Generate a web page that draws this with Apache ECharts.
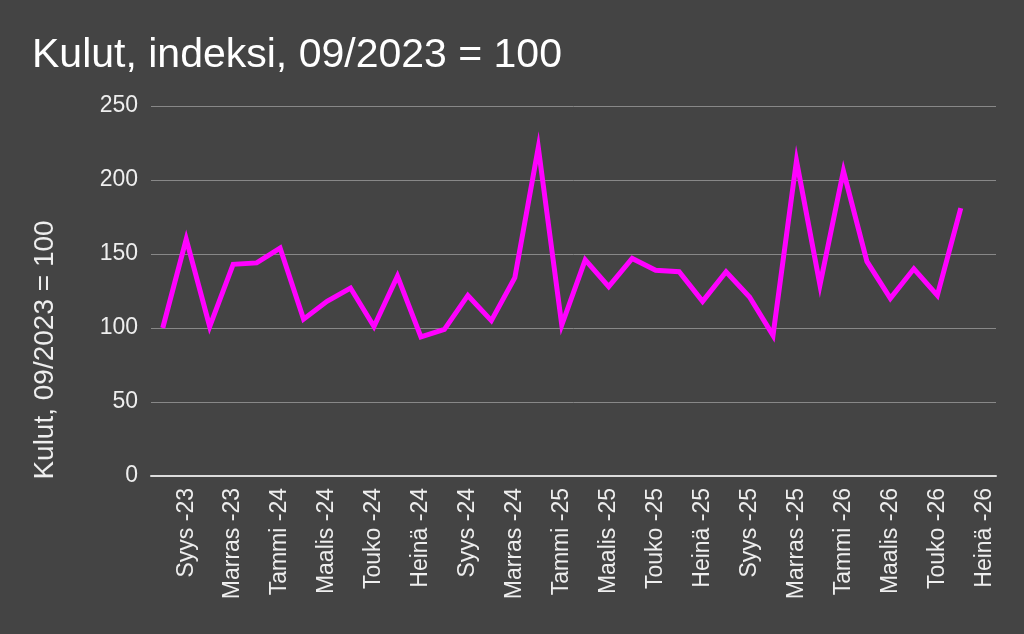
<!DOCTYPE html>
<html>
<head>
<meta charset="utf-8">
<script src="https://cdn.jsdelivr.net/npm/echarts@6/dist/echarts.min.js"></script>
<style>
html,body{margin:0;padding:0;background:#444444;}
#c{width:1024px;height:634px;}
</style>
</head>
<body>
<div id="c"></div>
<script>
const titleText = 'Kulut, indeksi, 09/2023 = 100';
const yAxisName = 'Kulut, 09/2023 = 100';
const categories = [
  'Elo -23','Syys -23','Loka -23','Marras -23','Joulu -23',
  'Tammi -24','Helmi -24','Maalis -24','Huhti -24','Touko -24','Kesä -24','Heinä -24',
  'Elo -24','Syys -24','Loka -24','Marras -24','Joulu -24',
  'Tammi -25','Helmi -25','Maalis -25','Huhti -25','Touko -25','Kesä -25','Heinä -25',
  'Elo -25','Syys -25','Loka -25','Marras -25','Joulu -25',
  'Tammi -26','Helmi -26','Maalis -26','Huhti -26','Touko -26','Kesä -26','Heinä -26'
];
const values = [100, 160, 101, 143, 144, 154, 106, 118, 127, 101, 135, 94, 99, 122, 105, 134, 222, 102,
  146, 128, 147, 139, 138, 118, 138, 121, 95, 213, 129, 206, 145, 120, 140, 122, 181];
const yMin = 0, yMax = 250, yStep = 50;

const chart = echarts.init(document.getElementById('c'), null, {renderer: 'canvas'});
const font = 'Liberation Sans, Arial, sans-serif';
chart.setOption({
  backgroundColor: '#444444',
  animation: false,
  title: {
    text: titleText,
    left: 27,
    top: 30,
    textStyle: {color: '#ffffff', fontSize: 41, fontWeight: 'normal', fontFamily: font}
  },
  grid: {left: 151, right: 28, top: 106, bottom: 158, containLabel: false},
  xAxis: {
    type: 'category',
    data: categories,
    boundaryGap: true,
    axisLine: {show: true, lineStyle: {color: '#dddddd', width: 2}},
    axisTick: {show: false},
    splitLine: {show: false},
    axisLabel: {
      interval: function (i) { return i % 2 === 1; },
      rotate: 90,
      margin: 12,
      color: '#eeeeee',
      fontSize: 23,
      fontFamily: font
    }
  },
  yAxis: {
    type: 'value',
    min: yMin, max: yMax, interval: yStep,
    axisLine: {show: false},
    axisTick: {show: false},
    splitLine: {show: true, lineStyle: {color: '#888888', width: 1}},
    axisLabel: {margin: 13, color: '#eeeeee', fontSize: 23, fontFamily: font}
  },
  graphic: [{
    type: 'text',
    x: 45, y: 350,
    rotation: Math.PI / 2,
    style: {
      text: yAxisName,
      fill: '#eeeeee',
      fontSize: 28,
      fontFamily: font,
      align: 'center',
      verticalAlign: 'middle'
    }
  }],
  series: [{
    type: 'line',
    data: values,
    showSymbol: false,
    symbol: 'none',
    lineStyle: {color: '#ff00ff', width: 5, join: 'miter', miterLimit: 10},
    itemStyle: {color: '#ff00ff'}
  }]
});
</script>
</body>
</html>
